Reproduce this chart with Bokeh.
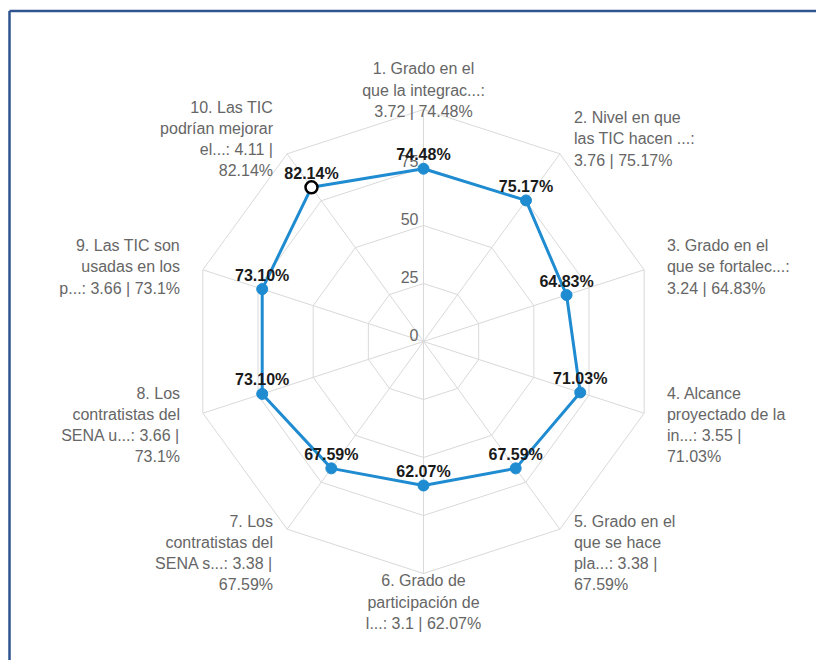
import numpy as np
from bokeh.plotting import figure
from bokeh.models import Range1d
from bokeh.core.properties import value
from bokeh.embed import file_html
from bokeh.resources import INLINE

# ---- data ----
category_labels = [
    "1. Grado en el\nque la integrac...:\n3.72 | 74.48%",
    "2. Nivel en que\nlas TIC hacen ...:\n3.76 | 75.17%",
    "3. Grado en el\nque se fortalec...:\n3.24 | 64.83%",
    "4. Alcance\nproyectado de la\nin...: 3.55 |\n71.03%",
    "5. Grado en el\nque se hace\npla...: 3.38 |\n67.59%",
    "6. Grado de\nparticipación de\nl...: 3.1 | 62.07%",
    "7. Los\ncontratistas del\nSENA s...: 3.38 |\n67.59%",
    "8. Los\ncontratistas del\nSENA u...: 3.66 |\n73.1%",
    "9. Las TIC son\nusadas en los\np...: 3.66 | 73.1%",
    "10. Las TIC\npodrían mejorar\nel...: 4.11 |\n82.14%",
]
scores = [3.72, 3.76, 3.24, 3.55, 3.38, 3.10, 3.38, 3.66, 3.66, 4.11]
percents = [74.48, 75.17, 64.83, 71.03, 67.59, 62.07, 67.59, 73.10, 73.10, 82.14]
radial_tick_labels = [0, 25, 50, 75]
grid_levels = [25, 50, 75, 100]
r_max = 100
highlight_index = 9

# ---- layout ----
W, H = 816, 660
PX = 2.32          # pixels per unit of percent
CX, CY = 423, 341  # centre of the radar in pixels
FONT = value("Liberation Sans")
BLUE = "#1f8bd0"
GRID = "#d9d9d9"

p = figure(width=W, height=H, output_backend="svg", toolbar_location=None,
           x_range=Range1d(-CX / PX, (W - CX) / PX),
           y_range=Range1d(-(H - CY) / PX, CY / PX),
           x_axis_location=None, y_axis_location=None, min_border=0,
           outline_line_color=None, background_fill_color="white",
           border_fill_color="white")
p.grid.visible = False

n = len(percents)
theta = np.arange(n) * 2 * np.pi / n
s, c = np.sin(theta), np.cos(theta)

# grid polygons
for lvl in grid_levels:
    xs = list(lvl * s) + [lvl * s[0]]
    ys = list(lvl * c) + [lvl * c[0]]
    p.line(xs, ys, line_color=GRID, line_width=1)
# spokes
p.segment(x0=np.zeros(n), y0=np.zeros(n), x1=r_max * s, y1=r_max * c,
          line_color=GRID, line_width=1)

# series
pct = np.array(percents)
px_ = pct * s
py_ = pct * c
p.line(list(px_) + [px_[0]], list(py_) + [py_[0]], line_color=BLUE, line_width=3)
mask = np.arange(n) != highlight_index
p.scatter(px_[mask], py_[mask], size=11, fill_color=BLUE, line_color=BLUE)
p.scatter(px_[~mask], py_[~mask], size=12, fill_color="white", line_color="black",
          line_width=2.5)

# radial tick labels
p.text(x=np.zeros(len(radial_tick_labels)), y=np.array(radial_tick_labels, float),
       text=[str(t) for t in radial_tick_labels], x_offset=-5, y_offset=-7,
       text_align="right", text_baseline="middle", text_font=FONT,
       text_font_size="16px", text_color="#666666")

# data labels
p.text(x=px_, y=py_, text=[f"{v:.2f}%" for v in percents], y_offset=-14,
       text_align="center", text_baseline="middle", text_font=FONT,
       text_font_size="16px", text_font_style="bold", text_color="#1a1a1a")

# category labels
lr = r_max + 24 / PX
lx = lr * s
ly = lr * c - 4.5 / PX
aligns = np.where(s > 0.01, "left", np.where(s < -0.01, "right", "center"))
for al in ["left", "right", "center"]:
    idx = np.where(aligns == al)[0]
    p.text(x=lx[idx], y=ly[idx], text=[category_labels[i] for i in idx],
           text_align=al, text_baseline="middle", text_line_height=1.25,
           text_font=FONT, text_font_size="16px", text_color="#666666")

# outer frame (top and left edges visible)
left = (9 - CX) / PX
top = (CY - 10.5) / PX
p.segment(x0=[left, left], y0=[top, top], x1=[(W + 20 - CX) / PX, left],
          y1=[top, -(H + 20 - CY) / PX], line_color="#2e5590", line_width=2.5)

open("out.html", "w").write(file_html(p, INLINE))
